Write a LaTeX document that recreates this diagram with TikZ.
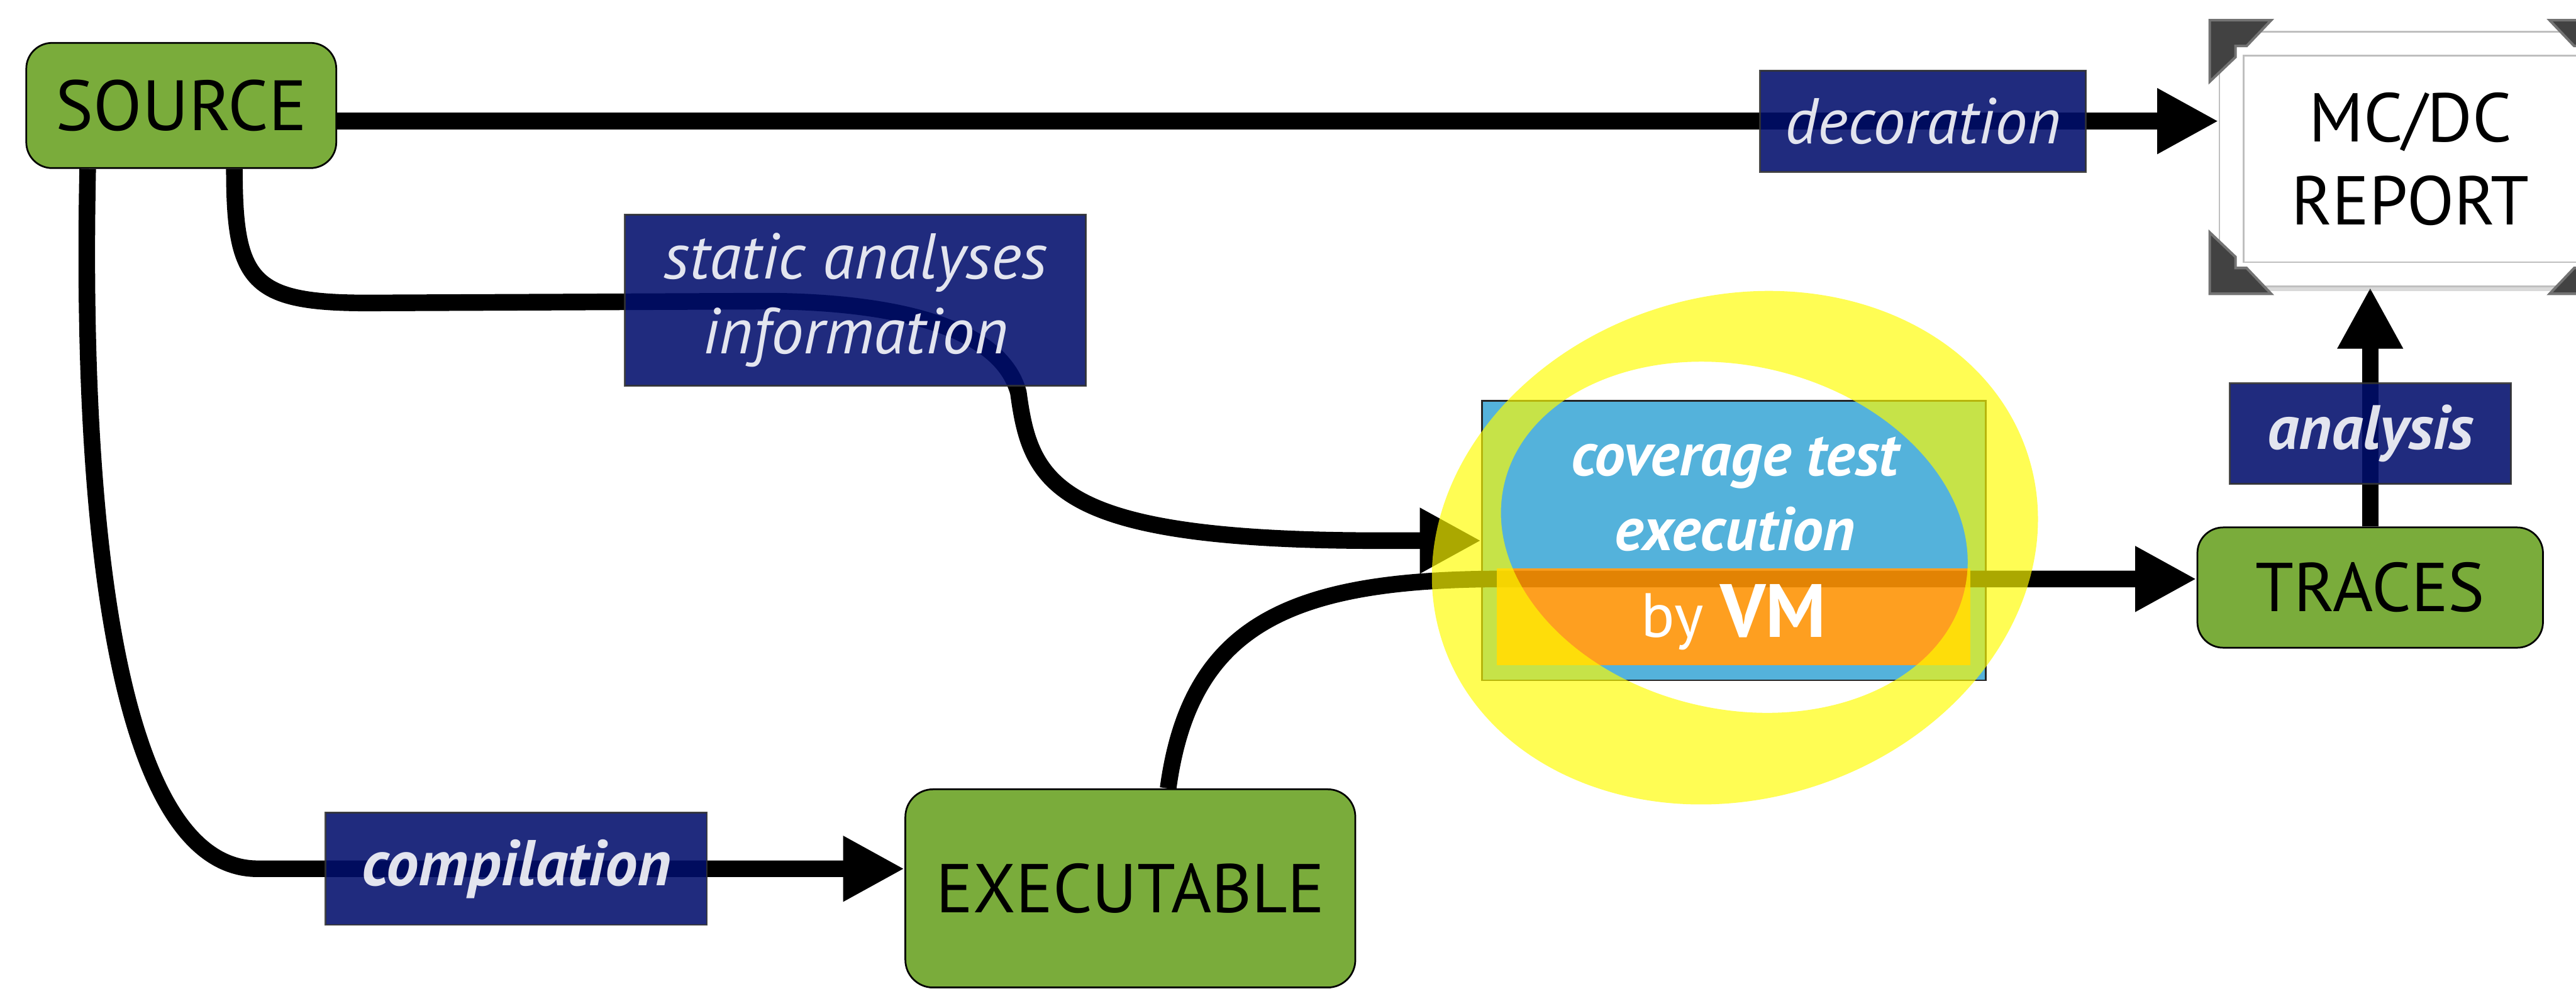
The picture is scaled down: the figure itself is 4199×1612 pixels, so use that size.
\documentclass[tikz,border=0pt]{standalone}
\usepackage{fontspec}
\setmainfont{PT Sans}
\usetikzlibrary{arrows.meta,shadows}
\pgfdeclarelayer{bg}
\pgfdeclarelayer{lines}
\pgfsetlayers{bg,lines,main}
\definecolor{boxgreen}{RGB}{122,172,59}
\definecolor{tagblue}{RGB}{1,14,108}
\definecolor{vmblue}{RGB}{84,178,219}
\definecolor{vmorange}{RGB}{254,148,5}
\definecolor{ringyellow}{RGB}{255,252,0}
\definecolor{cornergray}{RGB}{66,66,66}
\begin{document}
\begin{tikzpicture} [x = 0.01cm, y = -0.01cm,
		conn/.style = {line width = 7.7pt, -{Triangle[length = 1cm, width = 1cm]}},
		block/.style = {draw, line width = 0.8pt, fill = boxgreen, rounded corners = 0.42cm, inner sep = 0pt, font = \fontsize{33}{38}\selectfont},
		tag/.style = {draw = black!80, line width = 0.8pt, fill = tagblue, opacity = 0.88, text = white, inner sep = 0pt, align = center, font = \fontsize{30}{34.7}\selectfont\itshape},
		frameline/.style = {draw = black!25, line width = 0.8pt}]
			\useasboundingbox (0,0) rectangle (4199,1612);
			\clip (0,0) rectangle (4199,1612);

			\node [block, minimum width = 5.05cm, minimum height = 2.04cm] (src) at (295.5,172) {SOURCE};
			\node [block, rounded corners = 0.45cm, minimum width = 7.33cm, minimum height = 3.23cm, font = \fontsize{32}{38}\selectfont] (exe) at (1842.5,1448.5) {EXECUTABLE};
			\node [block, minimum width = 5.63cm, minimum height = 1.96cm, font = \fontsize{32}{38}\selectfont] (trc) at (3863.5,958) {TRACES};

			% report sheet
			\node [frameline, fill = white, minimum width = 6.22cm, minimum height = 4.15cm, align = center, drop shadow = {shadow xshift = 0.04cm, shadow yshift = -0.08cm, opacity = 0.3}, font = \fontsize{32}{38.4}\selectfont] (rep) at (3929,259.5) {MC/DC\\REPORT};
			\draw [frameline] ([shift = {(41,40)}]rep.north west) rectangle ([shift = {(-41,-41)}]rep.south east);
			\foreach \cx/\cy/\sx/\sy in {3602/33/1/1, 3602/479/1/-1, 4256/33/-1/1, 4256/479/-1/-1}
				\filldraw [fill = cornergray, draw = black!55, line width = 1.2pt, shift = {(\cx,\cy)}, xscale = \sx, yscale = \sy] (0,0) -- (100,0) -- (60,42) -- (42,42) -- (42,60) -- (0,100) -- cycle;

			\node [tag, minimum width = 5.31cm, minimum height = 1.65cm] (dec) at (3134.5,197.5) {decoration};
			\node [tag, minimum width = 7.51cm, minimum height = 2.79cm] (sta) at (1394.5,489.5) {static analyses\\information};
			\node [tag, minimum width = 6.21cm, minimum height = 1.83cm, font = \fontsize{30}{32}\selectfont\bfseries\itshape] (cmp) at (841.5,1416.5) {compilation};
			\node [tag, minimum width = 4.58cm, minimum height = 1.64cm, font = \fontsize{29}{31}\selectfont\bfseries\itshape] (ana) at (3864,707) {analysis};

			% coverage box
			\begin{pgfonlayer}{bg}
				\node [draw = black!85, line width = 0.8pt, fill = vmblue, minimum width = 8.21cm, minimum height = 4.55cm] (cov) at (2826.5,881.5) {};
				\fill [white] (2440,927) rectangle (3212,1085);
			\end{pgfonlayer}
			\node [fill = vmorange, fill opacity = 0.89, text opacity = 1, text = white, inner sep = 0pt, minimum width = 7.72cm, minimum height = 1.58cm] (vm) at (2826,1006) {\fontsize{29}{30}\selectfont by \fontsize{35}{36}\selectfont\bfseries VM};
			\node [text = white, align = center, inner sep = 0pt, font = \fontsize{28.5}{34.7}\selectfont\bfseries\itshape] (covtxt) at (2828,806) {coverage test\\execution};

			\begin{pgfonlayer}{lines}
				\draw [conn] (src.east |- dec) -- (rep.west |- dec);
				\draw [conn] ([xshift = 0.865cm]src.south) .. controls (382,460) and (410,494) .. (600,494) -- (1250,491) .. controls (1450,492) and (1630,530) .. (1660,640) .. controls (1680,790) and (1720,881.5) .. (2250,881.5) -- (cov.west);
				\draw [conn] ([xshift = -1.525cm]src.south) .. controls (130,900) and (200,1416.5) .. (420,1416.5) -- (exe.west |- cmp);
				\draw [conn] ([xshift = 0.615cm]exe.north) .. controls (1940,1020) and (2100,944) .. (2450,944) -- (trc.west |- 0,944);
				\draw [conn] (trc.north) -- (trc.north |- rep.south);
			\end{pgfonlayer}

			% highlight ring
			\fill [ringyellow, opacity = 0.67, even odd rule] (2828,893) ellipse [x radius = 501, y radius = 410, rotate = 17] (2827,876) ellipse [x radius = 385, y radius = 280, rotate = -13];
		\end{tikzpicture}
\end{document}
